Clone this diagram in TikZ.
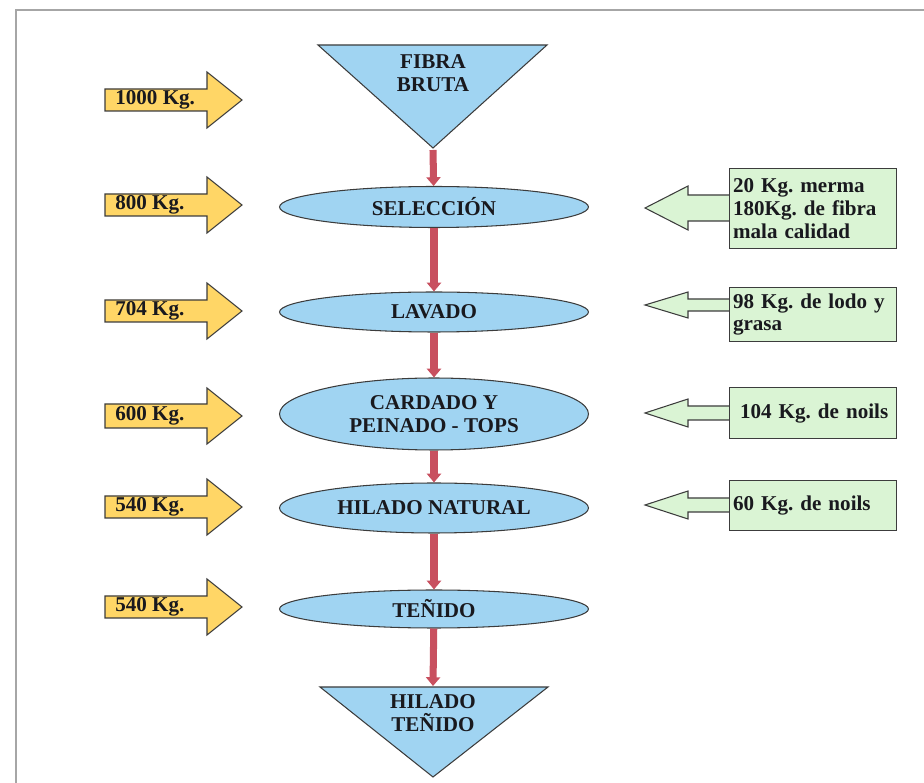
\documentclass[tikz,border=0pt]{standalone}
\usepackage{fontspec}
\setmainfont{Liberation Serif}
\usepackage{xcolor}
\usetikzlibrary{shapes,arrows,arrows.meta,positioning,calc}

\definecolor{celeste}{RGB}{160,212,242}
\definecolor{amarillo}{RGB}{255,214,102}
\definecolor{verde}{RGB}{218,244,212}
\definecolor{rojo}{RGB}{200,80,95}
\definecolor{borde}{RGB}{60,60,60}
\definecolor{tinta}{RGB}{25,25,30}
\frenchspacing

\begin{document}
\begin{tikzpicture}[x=0.02cm, y=-0.02cm,
  font=\fontsize{12}{13}\selectfont\bfseries, text=tinta,
  proceso/.style={ellipse, draw=borde, fill=celeste, minimum width=6.18cm, inner sep=0pt, align=center, line width=0.6pt},
  entrada/.style={draw=borde, fill=amarillo, line width=0.6pt},
  salida/.style={draw=borde, fill=verde, line width=0.6pt},
  caja/.style={rectangle, draw=borde, fill=verde, anchor=north west, minimum width=3.34cm, text width=3.2cm, inner xsep=2pt, align=left, line width=0.6pt},
  etiqueta/.style={anchor=west, inner sep=0pt},
  flujo/.style={draw=rojo, line width=4pt, -{Triangle[length=5pt,width=8pt]}}]
\useasboundingbox (0,0) rectangle (924,783);
% marco
\draw[black!35, line width=1.2pt] (16,783) -- (16,10) -- (924,10);

% triangulos de inicio y fin
\draw[fill=celeste, draw=borde, line width=0.6pt] (318,45) -- (547,45) -- (433,148) -- cycle;
\node[align=center] (fibra) at (433,73) {FIBRA\\BRUTA};
\coordinate (fibrafin) at (433,150);
\draw[fill=celeste, draw=borde, line width=0.6pt] (320,687) -- (548,687) -- (433,777) -- cycle;
\node[align=center] (hilado) at (433,713) {HILADO\\TEÑIDO};
\coordinate (hiladoini) at (433,686);

% procesos
\node[proceso, minimum height=0.82cm] (sel) at (434,207) {SELECCIÓN};
\node[proceso, minimum height=0.80cm] (lav) at (434,312) {LAVADO};
\node[proceso, minimum height=1.44cm] (car) at (434,414) {CARDADO Y\\PEINADO - TOPS};
\node[proceso, minimum height=1.00cm] (hil) at (434,508) {HILADO NATURAL};
\node[proceso, minimum height=0.76cm] (ten) at (434,609) {TEÑIDO};

% flujo
\draw[flujo] (fibrafin) -- (sel);
\draw[flujo] (sel) -- (lav);
\draw[flujo] (lav) -- (car);
\draw[flujo] (car) -- (hil);
\draw[flujo] (hil) -- (ten);
\draw[flujo] (ten) -- (hiladoini);

% entradas
\draw[entrada] (105,89) -- (207,89) -- (207,72) -- (242,100) -- (207,128) -- (207,111) -- (105,111) -- cycle;
\node[etiqueta] (e1) at (115,100) {1000 Kg.};
\draw[entrada] (105,194) -- (207,194) -- (207,177) -- (242,205) -- (207,233) -- (207,216) -- (105,216) -- cycle;
\node[etiqueta] (e2) at (115,205) {800 Kg.};
\draw[entrada] (105,300) -- (207,300) -- (207,283) -- (242,311) -- (207,339) -- (207,322) -- (105,322) -- cycle;
\node[etiqueta] (e3) at (115,311) {704 Kg.};
\draw[entrada] (105,404) -- (207,404) -- (207,388) -- (242,416) -- (207,444) -- (207,428) -- (105,428) -- cycle;
\node[etiqueta] (e4) at (115,416) {600 Kg.};
\draw[entrada] (105,496) -- (207,496) -- (207,479) -- (242,507) -- (207,535) -- (207,518) -- (105,518) -- cycle;
\node[etiqueta] (e5) at (115,507) {540 Kg.};
\draw[entrada] (105,596) -- (207,596) -- (207,579) -- (242,607) -- (207,635) -- (207,618) -- (105,618) -- cycle;
\node[etiqueta] (e6) at (115,607) {540 Kg.};

% salidas
\draw[salida] (729,195) -- (688,195) -- (688,186) -- (645,208) -- (688,230) -- (688,221) -- (729,221);
\node[caja, minimum height=1.6cm] (s1) at (729,168) {20 Kg. merma\\180Kg. de fibra\\mala calidad};
\draw[salida] (729,299) -- (688,299) -- (688,292) -- (645,305) -- (688,318) -- (688,311) -- (729,311);
\node[caja, minimum height=0.9cm] (s2) at (729,287) {98 Kg. de lodo y\\grasa};
\draw[salida] (729,406) -- (688,406) -- (688,399) -- (645,413) -- (688,427) -- (688,420) -- (729,420);
\node[caja, minimum height=1.02cm] (s3) at (729,387) {\hspace{4pt}104 Kg. de noils};
\draw[salida] (729,498) -- (688,498) -- (688,491) -- (645,505) -- (688,519) -- (688,512) -- (729,512);
\node[caja, minimum height=1.0cm] (s4) at (729,480) {60 Kg. de noils};
\end{tikzpicture}
\end{document}
